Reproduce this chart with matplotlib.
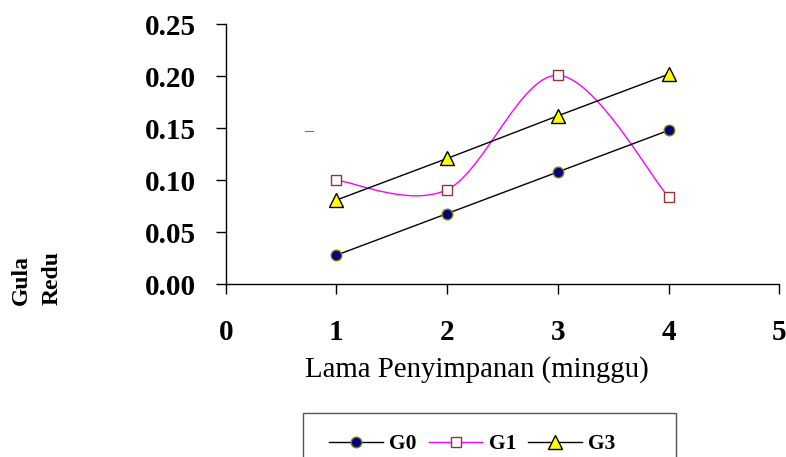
import numpy as np
import matplotlib
matplotlib.use('Agg')
import matplotlib.pyplot as plt
from matplotlib.patches import Rectangle
from matplotlib.lines import Line2D

plt.rcParams['font.family'] = ['Liberation Serif', 'DejaVu Serif']

# storage time (weeks) and reducing sugar per treatment
weeks = [1, 2, 3, 4]
g0 = [0.028, 0.068, 0.108, 0.148]
g1 = [0.100, 0.091, 0.201, 0.084]
g3 = [0.081, 0.121, 0.162, 0.202]
series_names = ['G0', 'G1', 'G3']
x_ticks = [0, 1, 2, 3, 4, 5]
y_ticks = [0.00, 0.05, 0.10, 0.15, 0.20, 0.25]


def smooth_line(xs, ys, steps=40):
    # bezier smoothing like spreadsheet "smoothed line" charts
    pts = np.column_stack([xs, ys]).astype(float)
    ext = np.vstack([pts[0], pts, pts[-1]])
    out = []
    for i in range(len(pts) - 1):
        p0 = ext[i + 1]
        p3 = ext[i + 2]
        c1 = p0 + (ext[i + 2] - ext[i]) / 6.0
        c2 = p3 - (ext[i + 3] - ext[i + 1]) / 6.0
        t = np.linspace(0, 1, steps)[:, None]
        seg = ((1 - t) ** 3) * p0 + 3 * ((1 - t) ** 2) * t * c1 + 3 * (1 - t) * t ** 2 * c2 + t ** 3 * p3
        out.append(seg if i == 0 else seg[1:])
    out = np.vstack(out)
    return out[:, 0], out[:, 1]


W, H = 786, 457
fig = plt.figure(figsize=(W / 100, H / 100), dpi=100)
ax = fig.add_axes([225.7 / W, 1 - 284.3 / H, (779.3 - 225.7) / W, (284.3 - 24.3) / H])

ax.plot(weeks, g0, color='black', lw=1, marker='o', ms=7.6,
        mfc='#000080', mec='#808000', mew=1, zorder=3)
sx, sy = smooth_line(weeks, g1)
ax.plot(sx, sy, color='#FF00FF', lw=1, zorder=2)
ax.plot(weeks, g1, ls='none', marker='s', ms=7.8, mfc='white', mec='#993333', mew=1, zorder=3)
ax.plot(weeks, g3, color='black', lw=1, marker='^', ms=9.5,
        mfc='#FFFF00', mec='black', mew=1, zorder=4)

ax.set_xlim(0, 5)
ax.set_ylim(0, 0.25)
ax.set_xticks(x_ticks)
ax.set_yticks(y_ticks)
ax.set_yticklabels(['%.2f' % v for v in y_ticks])
for s in ['top', 'right']:
    ax.spines[s].set_visible(False)
for s in ['left', 'bottom']:
    ax.spines[s].set_linewidth(1)
ax.tick_params(axis='y', direction='out', length=7.2, width=1, pad=14, labelsize=21)
ax.tick_params(axis='x', direction='out', length=7.2, width=1, pad=18, labelsize=21)
for lab in ax.get_xticklabels() + ax.get_yticklabels():
    lab.set_fontweight('bold')

ax.text(0.745, 0.147, '\u2013', ha='center', va='center', fontsize=13, color='#444444')

fig.text(477 / W, 1 - 377 / H, 'Lama Penyimpanan (minggu)', ha='center', va='baseline', fontsize=20.8)
fig.text(37 / W, 1 - 278 / H, 'Gula\nRedu', rotation=90, ha='center', va='center',
         multialignment='left', fontsize=17, fontweight='bold', linespacing=1.6)

# legend with a box running off the bottom edge
fig.patches.append(Rectangle((303 / W, 1 - 480 / H), 373 / W, 67 / H, transform=fig.transFigure,
                             fill=False, edgecolor='#555555', lw=1, clip_on=False))
handles = [
    Line2D([], [], color='black', lw=1, marker='o', ms=7.6, mfc='#000080', mec='#808000'),
    Line2D([], [], color='#FF00FF', lw=1, marker='s', ms=7.8, mfc='white', mec='#993333'),
    Line2D([], [], color='black', lw=1, marker='^', ms=9.5, mfc='#FFFF00', mec='black'),
]
fig.legend(handles, series_names, loc='center left', bbox_to_anchor=(329 / W, 1 - 444 / H),
           ncol=3, frameon=False, borderpad=0, borderaxespad=0, handlelength=2.5,
           handletextpad=0.3, columnspacing=0.55, prop={'weight': 'bold', 'size': 15.5})

fig.savefig('out.png', dpi=100)
